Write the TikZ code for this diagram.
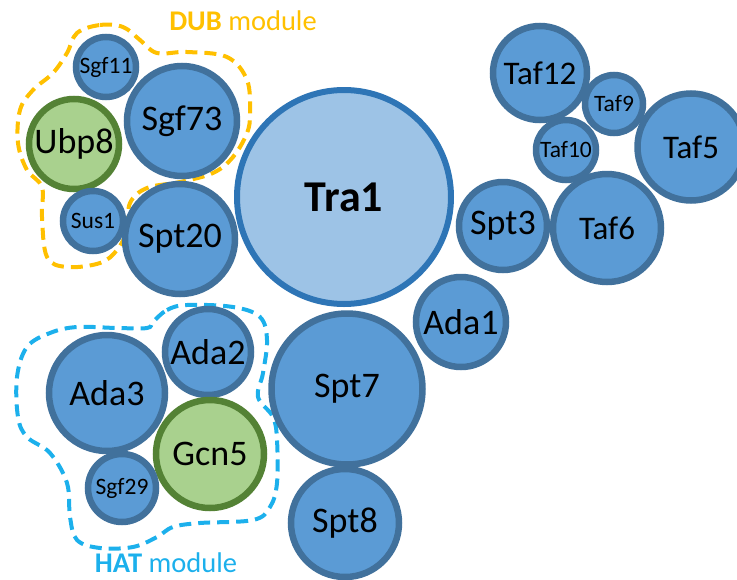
\documentclass[tikz,border=0pt]{standalone}
\usepackage{fontspec}
\setmainfont{Carlito}
\definecolor{bfill}{HTML}{5B9BD5}
\definecolor{bline}{HTML}{41719C}
\definecolor{tfill}{HTML}{9DC3E6}
\definecolor{tline}{HTML}{2E75B6}
\definecolor{gfill}{HTML}{A9D18E}
\definecolor{gline}{HTML}{548235}
\definecolor{dubc}{HTML}{FFC000}
\definecolor{hatc}{HTML}{1CB0EC}
\tikzset{
  bub/.style={circle, draw=bline, fill=bfill, line width=6.5pt, inner sep=0pt, text=black},
  gbub/.style={bub, draw=gline, fill=gfill},
  tbub/.style={bub, draw=tline, fill=tfill, line width=6pt},
  big/.style={font=\fontsize{36}{36}\selectfont},
  mid/.style={font=\fontsize{33}{33}\selectfont},
  small/.style={font=\fontsize{23.5}{23.5}\selectfont},
  modline/.style={line width=4pt, dash pattern=on 12pt off 7pt},
  modlabel/.style={font=\fontsize{28.5}{28.5}\selectfont, inner sep=0pt, anchor=base},
}
\begin{document}
\begin{tikzpicture}[x=1pt,y=-1pt]
\useasboundingbox (0,0) rectangle (737,579);
\clip (0,0) rectangle (737,579);
% module outlines
\draw[modline, draw=dubc] plot[smooth cycle, tension=0.6] coordinates {
 (77,33) (100,25) (123,27) (140,40) (157,53) (187,52) (227,57) (247,80) (250,113)
 (247,133) (233,157) (213,173) (180,182) (147,188) (130,203) (127,230) (117,250)
 (100,263) (67,267) (47,257) (42,217) (42,187) (27,170) (18,143) (20,110) (33,90)
 (53,73) (67,53)};
\draw[modline, draw=hatc] plot[smooth cycle, tension=0.6] coordinates {
 (153,322) (167,310) (187,305) (233,307) (260,317) (267,340) (263,373) (258,397)
 (273,417) (277,440) (277,483) (270,507) (253,520) (200,523) (173,527) (157,537)
 (133,547) (100,548) (77,540) (70,517) (67,483) (50,453) (27,437) (18,417) (17,377)
 (27,347) (50,333) (77,327) (117,328) (147,328)};
% bubbles
\node[tbub, minimum size=214pt, font=\fontsize{44}{44}\selectfont\bfseries] (tra1) at (344,197) {Tra1};
\node[bub, big, minimum size=151pt] (spt7) at (347,389) {Spt7};
\node[bub, big, minimum size=108pt] (spt8) at (345,523) {Spt8};
\node[bub, big, minimum size=90pt] (ada1) at (461,322) {Ada1};
\node[bub, big, minimum size=88pt] (spt3) at (503,226) {Spt3};
\node[bub, mid, minimum size=108pt] (taf6) at (607,228) {Taf6};
\node[bub, mid, minimum size=107pt] (taf5) at (691,147) {Taf5};
\node[bub, mid, minimum size=94pt] (taf12) at (540,73) {Taf12};
\node[bub, small, minimum size=58pt] (taf9) at (614,104) {Taf9};
\node[bub, small, minimum size=60pt] (taf10) at (566,150) {Taf10};
\node[bub, big, minimum size=110pt] (sgf73) at (182,121) {Sgf73};
\node[bub, big, minimum size=110pt] (spt20) at (180,239) {Spt20};
\node[bub, small, minimum size=60pt] (sgf11) at (106,67) {Sgf11};
\node[gbub, big, minimum size=90pt] (ubp8) at (74,144) {Ubp8};
\node[bub, small, minimum size=60pt] (sus1) at (93,221) {Sus1};
\node[bub, big, minimum size=86pt] (ada2) at (208,352) {Ada2};
\node[bub, big, minimum size=116pt] (ada3) at (107,393) {Ada3};
\node[gbub, big, minimum size=108pt] (gcn5) at (210,454) {Gcn5};
\node[bub, small, minimum size=68pt] (sgf29) at (122,488) {Sgf29};
% module labels
\node[modlabel, text=dubc] (dub) at (243,30) {\textbf{DUB} module};
\node[modlabel, text=hatc] (hat) at (166,572) {\textbf{HAT} module};
\end{tikzpicture}
\end{document}
